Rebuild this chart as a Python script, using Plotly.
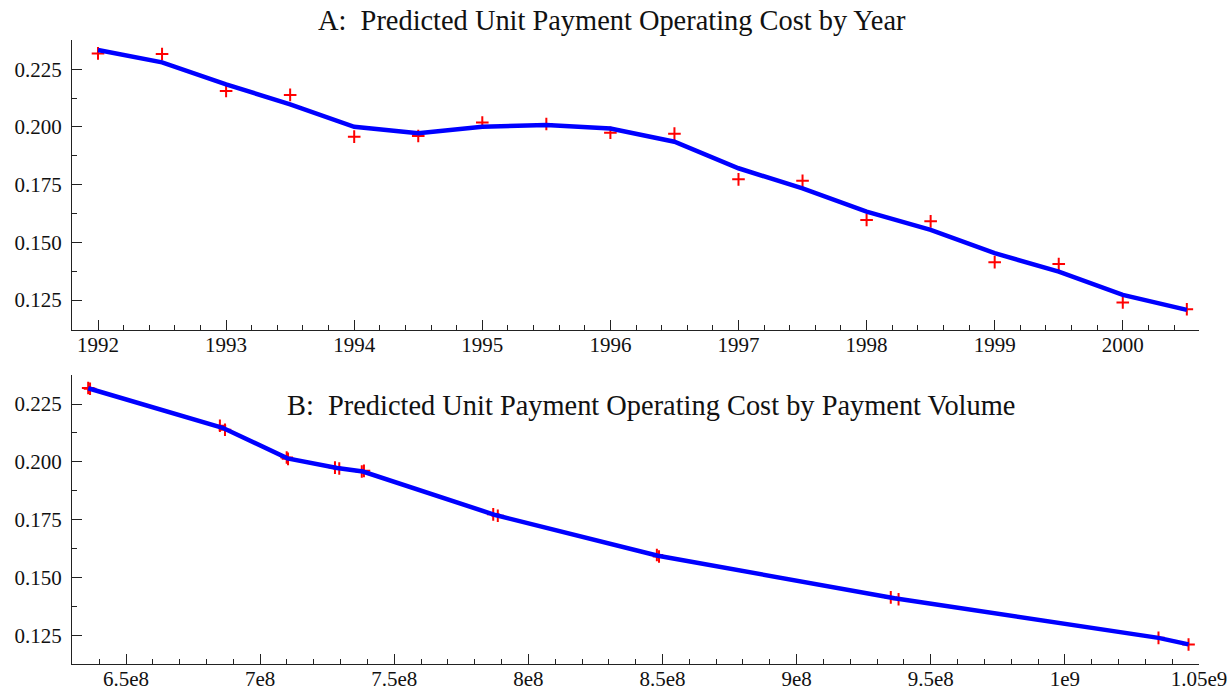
import plotly.graph_objects as go

# ---------------- Data ----------------
# Panel A: by year (observed = red crosses, predicted = blue line)
years = [1992.0, 1992.5, 1993.0, 1993.5, 1994.0, 1994.5, 1995.0, 1995.5, 1996.0,
         1996.5, 1997.0, 1997.5, 1998.0, 1998.5, 1999.0, 1999.5, 2000.0, 2000.5]
observed_cost = [0.2319, 0.2316, 0.2156, 0.2139, 0.1958, 0.1961, 0.2019, 0.2013, 0.1975,
                 0.1971, 0.1773, 0.1767, 0.1597, 0.1591, 0.1414, 0.1406, 0.1239, 0.1210]
predicted_cost_year = [0.2334, 0.2280, 0.2185, 0.2098, 0.2001, 0.1973, 0.2001, 0.2009, 0.1993,
                       0.1936, 0.1821, 0.1734, 0.1633, 0.1554, 0.1453, 0.1373, 0.1272, 0.1207]

# Panel B: by payment volume
volume_points = [635.9e6, 636.6e6, 685.0e6, 686.9e6, 737.9e6, 738.7e6, 709.9e6, 710.4e6, 727.9e6,
                 729.5e6, 786.9e6, 788.6e6, 847.9e6, 848.7e6, 935.1e6, 938.0e6, 1034.9e6, 1046.1e6]
volume_line = [635.9e6, 686.0e6, 710.2e6, 728.7e6, 738.3e6, 787.7e6, 848.3e6, 936.5e6, 1034.9e6, 1046.1e6]
predicted_cost_volume = [0.2318, 0.2147, 0.2015, 0.1973, 0.1958, 0.1770, 0.1594, 0.1410, 0.1239, 0.1211]

# Tick labels
year_ticks = [1992, 1993, 1994, 1995, 1996, 1997, 1998, 1999, 2000]
cost_ticks = [0.125, 0.150, 0.175, 0.200, 0.225]
cost_ticktext = ["0.125", "0.150", "0.175", "0.200", "0.225"]
volume_ticks = [6.5e8, 7e8, 7.5e8, 8e8, 8.5e8, 9e8, 9.5e8, 1e9, 1.05e9]
volume_ticktext = ["6.5e8", "7e8", "7.5e8", "8e8", "8.5e8", "9e8", "9.5e8", "1e9", "1.05e9"]

title_a = "A:  Predicted Unit Payment Operating Cost by Year"
title_b = "B:  Predicted Unit Payment Operating Cost by Payment Volume"

# ---------------- Figure ----------------
W, H = 1232, 694
FONT = "Liberation Serif, Times New Roman, serif"
AX = "#222222"
BLUE = "#0000FF"
RED = "#FF0000"


def px_x(p):
    return p / W


def px_y(p):
    return 1 - p / H


minor_cost = [(a + b) / 2 for a, b in zip(cost_ticks[:-1], cost_ticks[1:])]

fig = go.Figure()

marker = dict(symbol="cross-thin", size=9, line=dict(color=RED, width=2), color=RED)

fig.add_trace(go.Scatter(x=years, y=observed_cost, mode="markers", marker=marker,
                         xaxis="x", yaxis="y", showlegend=False, hoverinfo="skip"))
fig.add_trace(go.Scatter(x=years, y=predicted_cost_year, mode="lines",
                         line=dict(color=BLUE, width=4.5),
                         xaxis="x", yaxis="y", showlegend=False))
fig.add_trace(go.Scatter(x=volume_points, y=observed_cost, mode="markers", marker=marker,
                         xaxis="x2", yaxis="y2", showlegend=False, hoverinfo="skip"))
fig.add_trace(go.Scatter(x=volume_line, y=predicted_cost_volume, mode="lines",
                         line=dict(color=BLUE, width=4.5),
                         xaxis="x2", yaxis="y2", showlegend=False))

x_dom = [px_x(72), px_x(1199)]

common_axis = dict(showline=True, linecolor=AX, linewidth=1, showgrid=False, zeroline=False,
                   ticks="inside", ticklen=10, tickwidth=1, tickcolor=AX,
                   tickfont=dict(family=FONT, size=21, color="#111111"),
                   mirror=False, automargin=False)

fig.update_layout(
    width=W, height=H,
    margin=dict(l=0, r=0, t=0, b=0, pad=0),
    paper_bgcolor="white", plot_bgcolor="white",
    hovermode=False,
    xaxis=dict(common_axis, domain=x_dom, anchor="y",
               range=[1991.797, 2000.595], ticklabelstandoff=-4,
               tickmode="array", tickvals=year_ticks,
               minor=dict(dtick=0.2, tick0=1992, ticks="inside", ticklen=5, tickcolor=AX, tickwidth=1)),
    yaxis=dict(common_axis, domain=[px_y(330), px_y(40)], anchor="x",
               range=[0.1120, 0.2377], ticklabelstandoff=5,
               tickmode="array", tickvals=cost_ticks, ticktext=cost_ticktext,
               minor=dict(tickmode="array", tickvals=minor_cost, ticks="inside", ticklen=5,
                          tickcolor=AX, tickwidth=1)),
    xaxis2=dict(common_axis, domain=x_dom, anchor="y2",
                range=[6.2987e8, 1.05e9], ticklabelstandoff=-4,
                tickmode="array", tickvals=volume_ticks, ticktext=volume_ticktext,
                minor=dict(dtick=1e7, tick0=6.5e8, ticks="inside", ticklen=5, tickcolor=AX, tickwidth=1)),
    yaxis2=dict(common_axis, domain=[px_y(664), px_y(375)], anchor="x2",
                range=[0.1126, 0.23754], ticklabelstandoff=5,
                tickmode="array", tickvals=cost_ticks, ticktext=cost_ticktext,
                minor=dict(tickmode="array", tickvals=minor_cost, ticks="inside", ticklen=5,
                           tickcolor=AX, tickwidth=1)),
    annotations=[
        dict(text=title_a, xref="paper", yref="paper", x=px_x(612), y=px_y(21),
             xanchor="center", yanchor="middle", showarrow=False,
             font=dict(family=FONT, size=28.4, color="#111111")),
        dict(text=title_b, xref="paper", yref="paper", x=px_x(651), y=px_y(405),
             xanchor="center", yanchor="middle", showarrow=False,
             font=dict(family=FONT, size=28.4, color="#111111")),
    ],
)

# Remove the browser's default 8px body margin so the figure fills the window exactly.
fig.write_html("out.html",
               config={"displayModeBar": False, "staticPlot": True},
               post_script="document.body.style.margin='0';document.body.style.overflow='hidden';")
